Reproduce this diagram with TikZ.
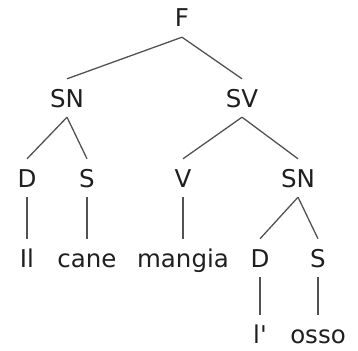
\documentclass[tikz,border=0pt]{standalone}
\usepackage{fontspec}
\setmainfont{DejaVu Sans}
\tikzset{
  cat/.style ={anchor=base, inner sep=10pt, text height=18pt, text depth=0pt,
               font=\fontsize{24.5}{26}\selectfont, text=black!88},
  word/.style={cat, inner sep=2pt, text height=26pt},
  br/.style  ={draw=black!68, line width=1.3pt},
}

\begin{document}
\begin{tikzpicture}[x=1pt, y=-1pt]
  \useasboundingbox (0,0) rectangle (358,350);

  % categories
  \node[cat] (f)   at (182,27)  {F};
  \node[cat] (sn)  at (67,107)  {SN};
  \node[cat] (sv)  at (242,107) {SV};
  \node[cat] (d1)  at (27,187)  {D};
  \node[cat] (s1)  at (87,187)  {S};
  \node[cat] (v)   at (183,187) {V};
  \node[cat] (sn2) at (298,187) {SN};
  \node[cat] (d2)  at (260,267) {D};
  \node[cat] (s2)  at (318,267) {S};

  % words
  \node[word] (il)     at (27,267)  {Il};
  \node[word] (cane)   at (87,267)  {cane};
  \node[word] (mangia) at (183,267) {mangia};
  \node[word] (lart)   at (260,343) {l\textquotesingle};
  \node[word] (osso)   at (318,343) {osso};

  \foreach \p/\c in {f/sn, f/sv, sn/d1, sn/s1, sv/v, sv/sn2, sn2/d2, sn2/s2,
                     d1/il, s1/cane, v/mangia, d2/lart, s2/osso}
    {\draw[br] (\p.south) -- (\c.north);}
\end{tikzpicture}
\end{document}
